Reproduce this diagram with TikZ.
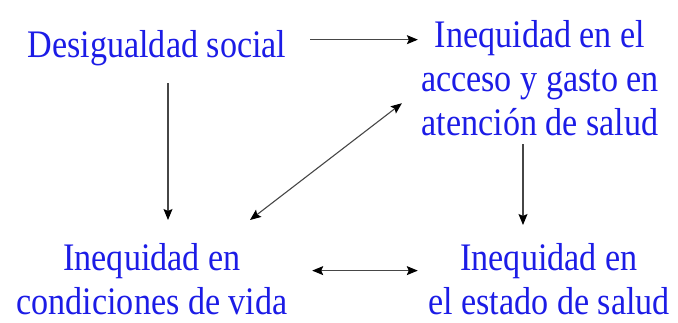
\documentclass[tikz,border=0pt]{standalone}
\usepackage{fontspec}
\setmainfont[FakeStretch=0.875]{Liberation Serif}
\usetikzlibrary{arrows.meta,calc}
\definecolor{txtblue}{RGB}{28,28,230}
\definecolor{linegray}{RGB}{70,70,70}
\begin{document}
\begin{tikzpicture}[x=1pt,y=1pt,
  lbl/.style={text=txtblue, inner sep=0pt, align=center,
    font=\fontsize{39}{44}\selectfont},
  arr/.style={draw=linegray, line width=1.1pt, -{Stealth[length=11pt,width=9pt,inset=2pt,fill=black,color=black]}},
  dbl/.style={draw=linegray, line width=1.1pt,
    {Stealth[length=11pt,width=9pt,inset=2pt,fill=black,color=black]}-{Stealth[length=11pt,width=9pt,inset=2pt,fill=black,color=black]}}]
\useasboundingbox (0,0) rectangle (678,322);
\node[lbl, anchor=base] (ds) at (157,264) {Desigualdad social};
\node[lbl, anchor=north] (ac) at (540,301.6) {Inequidad en el\\acceso y gasto en\\atención de salud};
\node[lbl, anchor=north] (cv) at (152,78.6) {Inequidad en\\condiciones de vida};
\node[lbl, anchor=north] (es) at (549,78.6) {Inequidad en\\el estado de salud};
% arrows
\coordinate (t1) at ([shift={(23.6,9)}]ds.east);
\draw[arr] (t1) -- ($(t1 -| ac.west)+(-3,0)$);
\draw[arr] ([shift={(11,-16.5)}]ds.south) -- ([shift={(16,23.4)}]cv.north);
\draw[dbl] ([shift={(98,23.4)}]cv.north) -- ([shift={(-19,33)}]ac.south west);
\draw[arr] ([shift={(-17,-8)}]ac.south) -- ([shift={(-26,18.4)}]es.north);
\draw[dbl] ([shift={(24.5,8.7)}]cv.east) -- ([shift={(-10.2,8.7)}]es.west);
\end{tikzpicture}
\end{document}
